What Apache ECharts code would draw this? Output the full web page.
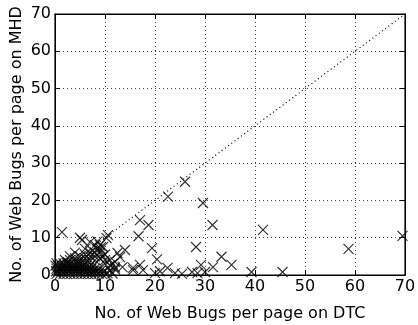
<!DOCTYPE html>
<html><head><meta charset="utf-8">
<script src="https://cdn.jsdelivr.net/npm/echarts@6/dist/echarts.min.js"></script>
<style>html,body{margin:0;padding:0;background:#fff}#c{width:418px;height:325px}</style>
</head><body><div id="c"></div>
<script>
const xTicks = [0,10,20,30,40,50,60,70];
const yTicks = [0,10,20,30,40,50,60,70];
const xTitle = 'No. of Web Bugs per page on DTC';
const yTitle = 'No. of Web Bugs per page on MHD';
const dtcValues = [
 0.3,1,1.7,2.4,3.1,3.8,4.5,5.2,5.9,6.6,7.3,8,8.7,9.4,10.1,
 0.6,1.3,2,2.7,3.4,4.1,4.8,5.5,6.2,6.9,7.6,8.3,9,9.7,
 0.3,1,1.7,2.4,3.1,3.8,4.5,5.2,5.9,6.6,7.3,8,8.7,
 0.6,1.3,2,2.7,3.4,4.1,4.8,5.5,6.2,6.9,7.6,
 0.3,1,1.7,2.4,3.1,3.8,4.5,5.2,5.9,
 10.5,11,11.5,12,0.2,0.1,
 3,4,5,5,6,6,7,7,7,7.5,8,8,8,8.5,9,9,9,9.5,10,10,10,11,11,11.5,12,12.5,12,13,13.5,14,
 6,7,5.4,5,1.4,10.3,10.6,9.6,9,8,8.5,4,3,2,2.5,4.5,6.5,
 15.6,17,15.6,17.6,16.7,17,18.7,19.4,20.4,22.5,22.6,26,29.6,31.5,41.6,28.2,33.3,35.3,31.6,29.2,39.3,45.5,58.7,69.5,
 25.4,27.4,28.5,30,24,20,21
];
const mhdValues = [
 0.3,0.3,0.3,0.3,0.3,0.3,0.3,0.3,0.3,0.3,0.3,0.3,0.3,0.3,0.3,
 1,1,1,1,1,1,1,1,1,1,1,1,1,1,
 1.7,1.7,1.7,1.7,1.7,1.7,1.7,1.7,1.7,1.7,1.7,1.7,1.7,
 2.4,2.4,2.4,2.4,2.4,2.4,2.4,2.4,2.4,2.4,2.4,
 3.1,3.1,3.1,3.1,3.1,3.1,3.1,3.1,3.1,
 0.5,1.2,0.4,1.5,1,2.5,
 4,4.5,4,5,4.5,5.5,4,5,6,6.5,4,5,6,7,4.5,6,7.2,5,4,5.5,3,2.5,4,3,3.5,5.9,2,4.8,2.1,6.7,
 7,8.8,9.4,10,11.5,9.9,10.7,7.5,8,8,9,6,5,4,3.5,3.5,3.8,
 1.9,2.7,1.3,1.3,10.4,14.7,13.4,7.2,4.2,1.9,21,25,19.3,13.4,12.1,7.5,4.9,2.7,2.1,2.7,0.8,0.8,7,10.5,
 0.3,0.8,0.5,0.8,0.5,0.5,1
];
const diagonal = [[0,0],[70,70]];

const points = dtcValues.map((x,i)=>[x, mhdValues[i]]);
const axisFont = {fontFamily:'DejaVu Sans', fontSize:16, color:'#000'};
const chart = echarts.init(document.getElementById('c'), null, {renderer:'canvas'});
const gridLine = {show:true, lineStyle:{color:'#000', type:[1,3], width:1, opacity:0.75}};
chart.setOption({
  animation:false,
  grid:{left:55, right:13, top:14, bottom:50, show:true, borderColor:'#000', borderWidth:1.2,
        containLabel:false, outerBoundsMode:'none'},
  xAxis:[
    {type:'value', min:0, max:70, interval:10, position:'bottom',
     axisLine:{show:true, onZero:false, lineStyle:{color:'#000'}},
     axisTick:{show:true, inside:true, length:5, lineStyle:{color:'#000'}},
     axisLabel:Object.assign({margin:4, formatter:v=>xTicks.includes(v)?String(v):''}, axisFont),
     splitLine:gridLine, nameMoveOverlap:false,
     name:xTitle, nameLocation:'middle', nameGap:31, nameTextStyle:axisFont},
    {type:'value', min:0, max:70, interval:10, position:'top',
     axisLine:{show:true, onZero:false, lineStyle:{color:'#000'}},
     axisTick:{show:true, inside:true, length:5, lineStyle:{color:'#000'}},
     axisLabel:{show:false}, splitLine:{show:false}}
  ],
  yAxis:[
    {type:'value', min:0, max:70, interval:10, position:'left',
     axisLine:{show:true, onZero:false, lineStyle:{color:'#000'}},
     axisTick:{show:true, inside:true, length:5, lineStyle:{color:'#000'}},
     axisLabel:Object.assign({margin:4, formatter:v=>yTicks.includes(v)?String(v):''}, axisFont),
     splitLine:gridLine, nameMoveOverlap:false,
     name:yTitle, nameLocation:'middle', nameGap:30, nameTextStyle:axisFont},
    {type:'value', min:0, max:70, interval:10, position:'right',
     axisLine:{show:true, onZero:false, lineStyle:{color:'#000'}},
     axisTick:{show:true, inside:true, length:5, lineStyle:{color:'#000'}},
     axisLabel:{show:false}, splitLine:{show:false}}
  ],
  series:[
    {type:'line', data:diagonal, symbol:'none', silent:true,
     lineStyle:{color:'#000', width:1.2, type:[1,3]}, z:1},
    {type:'scatter', data:points, symbol:'path://M0,0L10,10M10,0L0,10', symbolSize:10,
     itemStyle:{color:'none', borderColor:'#000', borderWidth:1.2}, z:2}
  ]
});
</script></body></html>
